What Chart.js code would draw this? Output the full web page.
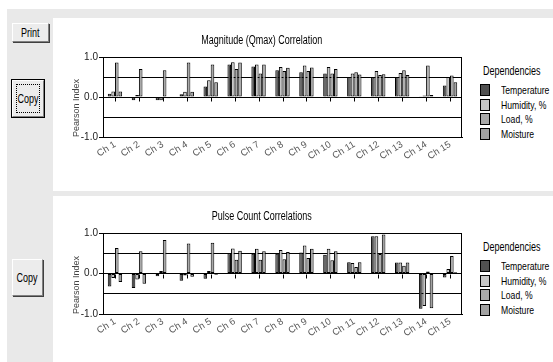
<!DOCTYPE html>
<html>
<head>
<meta charset="utf-8">
<script src="https://cdn.jsdelivr.net/npm/chart.js@4.4.1/dist/chart.umd.min.js"></script>
<style>
  body {
    margin: 0;
    width: 553px;
    height: 362px;
    position: relative;
    overflow: hidden;
    background: #fff;
    font-family: "Liberation Sans", Arial, sans-serif;
  }
  .gray { position: absolute; left: 7px; top: 9px; width: 546px; height: 353px; background: #e9e9e9; }
  .panel { position: absolute; background: #fff; }
  canvas { position: absolute; }
  .btn {
    position: absolute;
    box-sizing: border-box;
    background: #ececec;
    border: 1px solid;
    border-color: #fff #808080 #808080 #fff;
    box-shadow: 1px 1px 0 #404040;
    font-size: 12px;
    color: #000;
    display: flex;
    align-items: center;
    justify-content: center;
  }
  .btn.default { outline: 1px solid #000; }
  .btn .focus { position: absolute; left: 3px; top: 3px; right: 3px; bottom: 3px; border: 1px dotted #000; }
  .narrow { display: inline-block; transform: scaleX(0.75); transform-origin: center; white-space: nowrap; }
  .title { position: absolute; left: 53px; width: 417px; text-align: center; font-size: 12px; color: #000; line-height: 14px; }
  .legend { position: absolute; left: 480px; font-size: 11.5px; color: #000; }
  .legend .head { height: 19px; line-height: 14px; font-size: 12px; margin-left: 3px; }
  .legend .head span, .legend .row span { transform-origin: left center; }
  .legend .row { height: 14.5px; display: flex; align-items: center; }
  .legend .box { width: 10px; height: 12px; border: 1px solid #000; box-sizing: border-box; margin-right: 11px; flex: none; }
</style>
</head>
<body>
<div class="gray"></div>
<div class="panel" style="left:53px;top:18px;width:500px;height:173px"></div>
<div class="panel" style="left:53px;top:196px;width:500px;height:166px"></div>

<div class="btn" style="left:12px;top:23px;width:37px;height:19px"><span class="narrow">Print</span></div>
<div class="btn default" style="left:12px;top:80px;width:32px;height:37px"><div class="focus"></div><span class="narrow">Copy</span></div>
<div class="btn" style="left:12px;top:259px;width:31px;height:37px"><span class="narrow">Copy</span></div>

<canvas id="qmaxChart" width="417" height="173" style="left:53px;top:18px"></canvas>
<canvas id="pulseChart" width="417" height="166" style="left:53px;top:196px"></canvas>

<div class="title" style="top:33px"><span class="narrow">Magnitude (Qmax) Correlation</span></div>
<div class="title" style="top:209px"><span class="narrow">Pulse Count Correlations</span></div>

<div class="legend" id="qmaxLegend" style="top:64px"></div>
<div class="legend" id="pulseLegend" style="top:240px"></div>

<script>
const channels = ["Ch 1", "Ch 2", "Ch 3", "Ch 4", "Ch 5", "Ch 6", "Ch 7", "Ch 8",
  "Ch 9", "Ch 10", "Ch 11", "Ch 12", "Ch 13", "Ch 14", "Ch 15"];
const dependencies = ["Temperature", "Humidity, %", "Load, %", "Moisture"];
const depColors = ["#505050", "#c6c6c6", "#a9a9a9", "#a2a2a2"];

// Magnitude (Qmax) correlation
const qmaxTemperature = [0.08, -0.08, -0.08, 0.07, 0.26, 0.81, 0.76, 0.67, 0.62, 0.59, 0.50, 0.49, 0.50, 0.02, 0.29];
const qmaxHumidity = [0.14, 0.05, -0.08, 0.13, 0.42, 0.87, 0.81, 0.75, 0.79, 0.75, 0.59, 0.65, 0.60, 0.04, 0.50];
const qmaxLoad = [0.86, 0.70, 0.67, 0.86, 0.81, 0.70, 0.59, 0.65, 0.65, 0.59, 0.62, 0.55, 0.67, 0.79, 0.54];
const qmaxMoisture = [0.14, 0.00, -0.03, 0.13, 0.37, 0.86, 0.81, 0.73, 0.74, 0.70, 0.56, 0.57, 0.55, 0.05, 0.37];

// Pulse count correlations
const pulseTemperature = [-0.32, -0.36, -0.07, -0.18, -0.13, 0.50, 0.49, 0.49, 0.52, 0.46, 0.28, 0.92, 0.27, -0.87, -0.10];
const pulseHumidity = [-0.11, -0.15, 0.06, -0.05, 0.06, 0.62, 0.61, 0.58, 0.69, 0.61, 0.26, 0.92, 0.27, -0.80, 0.11];
const pulseLoad = [0.63, 0.55, 0.83, 0.74, 0.76, 0.34, 0.34, 0.35, 0.38, 0.33, 0.16, 0.48, 0.19, 0.05, 0.43];
const pulseMoisture = [-0.21, -0.25, 0.00, -0.08, -0.03, 0.56, 0.55, 0.53, 0.61, 0.55, 0.28, 0.96, 0.27, -0.86, 0.03];

const yLabeled = [-1, 0, 1];
const FONT = '"Liberation Sans", Arial, sans-serif';

// black frame round the plot + small tick marks under the zero line
const framePlugin = {
  id: "frame",
  afterDatasetsDraw(chart) {
    const { ctx, chartArea: a, scales } = chart;
    ctx.save();
    ctx.strokeStyle = "#000";
    ctx.lineWidth = 1;
    ctx.strokeRect(Math.round(a.left) + 0.5, Math.round(a.top) + 0.5,
      Math.round(a.right - a.left) - 1, Math.round(a.bottom - a.top));
    const y0 = Math.round(scales.y.getPixelForValue(0)) + 0.5;
    ctx.beginPath();
    scales.x.ticks.forEach((t, i) => {
      const x = Math.round(scales.x.getPixelForTick(i)) + 0.5;
      ctx.moveTo(x, y0);
      ctx.lineTo(x, y0 + 4);
    });
    ctx.stroke();
    ctx.restore();
  },
};

function makeChart(id, series, topPad, axisHeight) {
  return new Chart(document.getElementById(id), {
    type: "bar",
    data: {
      labels: channels,
      datasets: dependencies.map((name, i) => ({
        label: name,
        data: series[i],
        backgroundColor: depColors[i],
        borderColor: "#000",
        borderWidth: 1,
        borderSkipped: false,
        categoryPercentage: 0.6,
        barPercentage: 1.0,
      })),
    },
    options: {
      responsive: false,
      animation: false,
      layout: { padding: { left: 0, right: 8, top: topPad, bottom: 0 } },
      plugins: {
        legend: { display: false },
        tooltip: { enabled: false },
      },
      scales: {
        x: {
          grid: { display: false, drawTicks: false },
          border: { display: true, color: "#000" },
          ticks: {
            color: "#555",
            font: { family: FONT, size: 9.5 },
            minRotation: 32,
            maxRotation: 32,
            autoSkip: false,
            padding: 2,
          },
          afterFit(scale) { scale.height = axisHeight; },
        },
        y: {
          min: -1,
          max: 1,
          ticks: {
            stepSize: 0.5,
            color: "#222",
            font: { family: FONT, size: 10 },
            padding: 1,
            callback: (v) => (yLabeled.includes(v) ? v.toFixed(1) : ""),
          },
          grid: {
            color: "#000",
            lineWidth: 1,
            tickLength: 4,
            tickColor: (c) => (c.tick && yLabeled.includes(c.tick.value) ? "#000" : "rgba(0,0,0,0)"),
          },
          border: { display: true, color: "#000" },
          title: {
            display: true,
            text: "Pearson Index",
            align: "start",
            color: "#444",
            font: { family: FONT, size: 9 },
            padding: { top: 18, bottom: 0 },
          },
          afterFit(scale) { scale.width = 50; },
        },
      },
    },
    plugins: [framePlugin],
  });
}

makeChart("qmaxChart", [qmaxTemperature, qmaxHumidity, qmaxLoad, qmaxMoisture], 39, 54);
makeChart("pulseChart", [pulseTemperature, pulseHumidity, pulseLoad, pulseMoisture], 37, 48);

function buildLegend(id) {
  const el = document.getElementById(id);
  let html = '<div class="head"><span class="narrow">Dependencies</span></div>';
  dependencies.forEach((name, i) => {
    html += '<div class="row"><div class="box" style="background:' + depColors[i] + '"></div>' +
      '<span class="narrow">' + name + "</span></div>";
  });
  el.innerHTML = html;
}
buildLegend("qmaxLegend");
buildLegend("pulseLegend");
</script>
</body>
</html>
